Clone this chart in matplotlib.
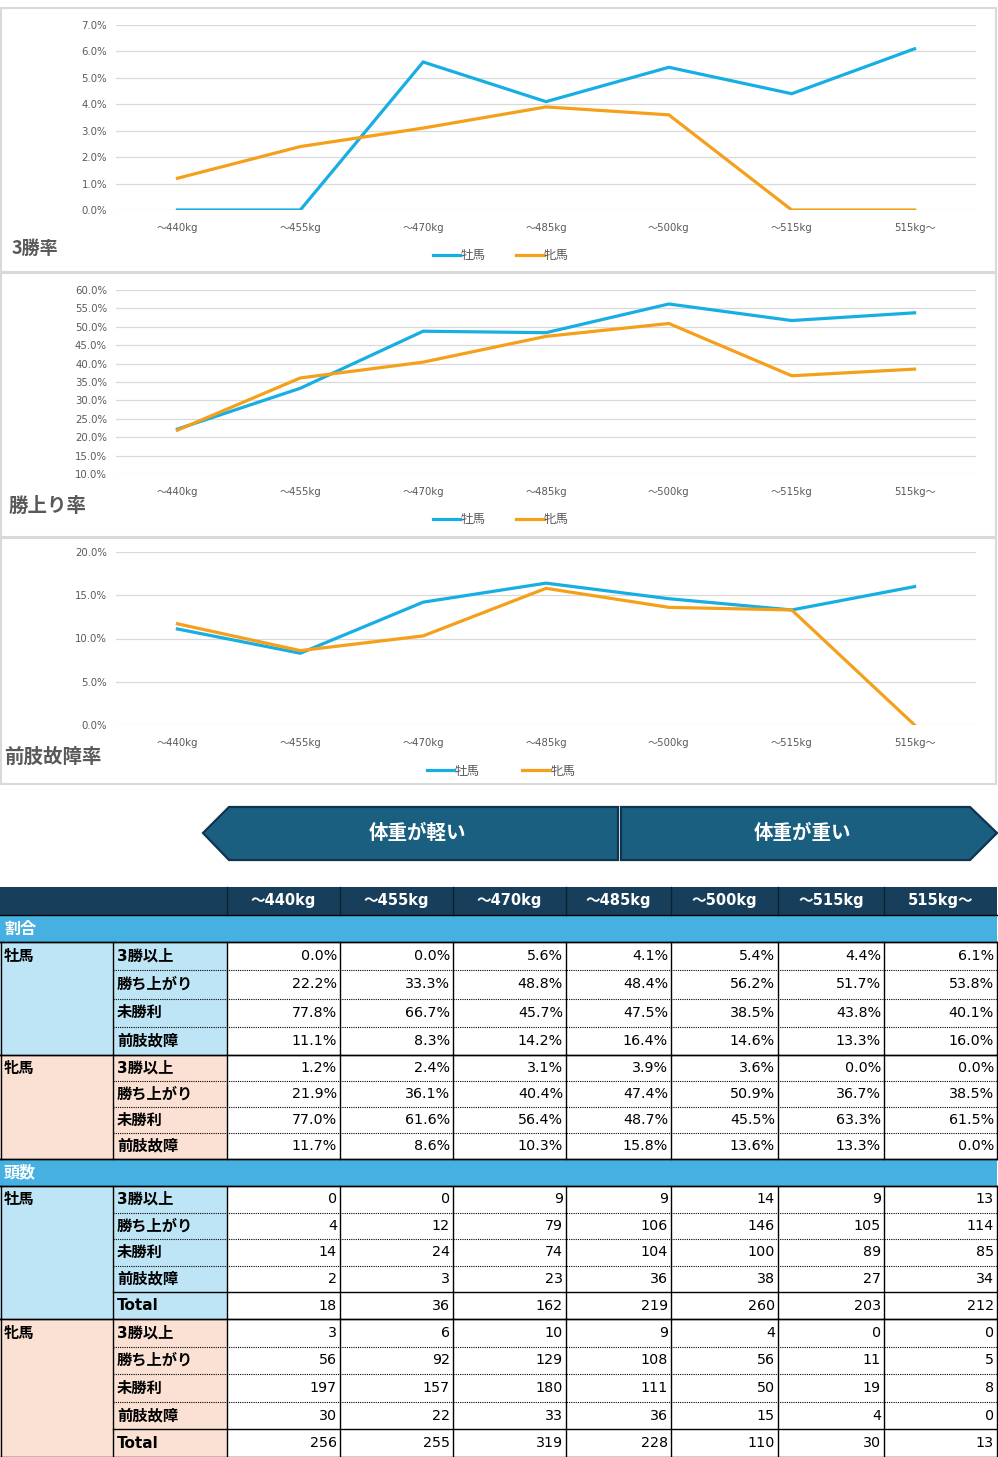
import matplotlib
matplotlib.use("Agg")
import matplotlib.pyplot as plt
from matplotlib.patches import Rectangle, Polygon
from matplotlib.ticker import FuncFormatter, MultipleLocator

plt.rcParams['font.family'] = ['Noto Sans CJK JP', 'DejaVu Sans']
LATIN = ['DejaVu Sans', 'Noto Sans CJK JP']

# ---------------- data ----------------
categories = ["～440kg", "～455kg", "～470kg", "～485kg", "～500kg", "～515kg", "515kg～"]
sexes = ["牡馬", "牝馬"]
metrics = ["3勝以上", "勝ち上がり", "未勝利", "前肢故障"]

# rates (%)
male_3win = [0.0, 0.0, 5.6, 4.1, 5.4, 4.4, 6.1]
male_winup = [22.2, 33.3, 48.8, 48.4, 56.2, 51.7, 53.8]
male_nowin = [77.8, 66.7, 45.7, 47.5, 38.5, 43.8, 40.1]
male_injury = [11.1, 8.3, 14.2, 16.4, 14.6, 13.3, 16.0]
female_3win = [1.2, 2.4, 3.1, 3.9, 3.6, 0.0, 0.0]
female_winup = [21.9, 36.1, 40.4, 47.4, 50.9, 36.7, 38.5]
female_nowin = [77.0, 61.6, 56.4, 48.7, 45.5, 63.3, 61.5]
female_injury = [11.7, 8.6, 10.3, 15.8, 13.6, 13.3, 0.0]

# counts
male_3win_n = [0, 0, 9, 9, 14, 9, 13]
male_winup_n = [4, 12, 79, 106, 146, 105, 114]
male_nowin_n = [14, 24, 74, 104, 100, 89, 85]
male_injury_n = [2, 3, 23, 36, 38, 27, 34]
male_total_n = [18, 36, 162, 219, 260, 203, 212]
female_3win_n = [3, 6, 10, 9, 4, 0, 0]
female_winup_n = [56, 92, 129, 108, 56, 11, 5]
female_nowin_n = [197, 157, 180, 111, 50, 19, 8]
female_injury_n = [30, 22, 33, 36, 15, 4, 0]
female_total_n = [256, 255, 319, 228, 110, 30, 13]

chart_titles = ["3勝率", "勝上り率", "前肢故障率"]
banner_texts = ["体重が軽い", "体重が重い"]
section_titles = ["割合", "頭数"]

# ---------------- styles ----------------
W, H = 998, 1457
BLUE = "#17aee4"
ORANGE = "#f4a01a"
GRID = "#d9d9d9"
TXT = "#595959"

fig = plt.figure(figsize=(W / 100, H / 100), dpi=100)
fig.patch.set_facecolor("white")
bg = fig.add_axes([0, 0, 1, 1], zorder=0)
bg.set_xlim(0, W)
bg.set_ylim(H, 0)
bg.axis("off")


def px_axes(x0, y0, x1, y1, z=2):
    return fig.add_axes([x0 / W, 1 - y1 / H, (x1 - x0) / W, (y1 - y0) / H], zorder=z)


def draw_chart(panel, box, male, female, ylim, step, title, tpos, tsize, lcenter, colsp):
    bg.add_patch(Rectangle((panel[0], panel[1]), panel[2] - panel[0], panel[3] - panel[1],
                           facecolor="white", edgecolor=GRID, lw=1.5, zorder=0))
    ax = px_axes(*box)
    ax.set_facecolor("none")
    x = list(range(len(categories)))
    l1, = ax.plot(x, male, color=BLUE, lw=2.3, solid_joinstyle="miter", label=sexes[0])
    l2, = ax.plot(x, female, color=ORANGE, lw=2.3, solid_joinstyle="miter", label=sexes[1])
    ax.set_xlim(-0.5, len(categories) - 0.5)
    ax.set_ylim(*ylim)
    ax.yaxis.set_major_locator(MultipleLocator(step))
    ax.yaxis.set_major_formatter(FuncFormatter(lambda v, p: f"{v:.1f}%"))
    ax.grid(axis="y", color=GRID, lw=0.9)
    ax.set_axisbelow(True)
    for s in ax.spines.values():
        s.set_visible(False)
    ax.set_xticks(x)
    ax.set_xticklabels(categories)
    ax.tick_params(axis="x", length=0, pad=9.5, labelsize=7.3, labelcolor=TXT)
    ax.tick_params(axis="y", length=0, pad=6.5, labelsize=7.3, labelcolor=TXT)
    for lab in ax.get_xticklabels() + ax.get_yticklabels():
        lab.set_family(LATIN)
    bg.text(tpos[0], tpos[1], title, fontsize=tsize, fontweight="bold", color=TXT,
            ha="left", va="center")
    ax.legend(handles=[l1, l2], loc="center", bbox_to_anchor=(lcenter[0] / W, 1 - lcenter[1] / H),
              bbox_transform=fig.transFigure, ncol=2, frameon=False, fontsize=9,
              handlelength=2.2, handletextpad=0.05, columnspacing=colsp, labelcolor=TXT,
              borderaxespad=0, borderpad=0)
    return ax


draw_chart((1, 8, 996, 272), (116, 25, 976, 210), male_3win, female_3win, (0, 7), 1,
           chart_titles[0], (12, 248), 13, (501, 256), 2.4)
draw_chart((1, 273, 996, 537), (116, 290, 976, 474), male_winup, female_winup, (10, 60), 5,
           chart_titles[1], (9, 506), 14, (501, 520), 2.4)
draw_chart((1, 538, 996, 784), (116, 552, 976, 725), male_injury, female_injury, (0, 20), 5,
           chart_titles[2], (4, 757), 14, (501, 771), 3.4)

# ---------------- banner ----------------
BAN_FC = "#1b5f80"
BAN_EC = "#0e3450"
left_arrow = [(203, 833), (229, 807), (618, 807), (618, 860), (229, 860)]
right_arrow = [(621, 807), (970, 807), (997, 833), (970, 860), (621, 860)]
for poly, txt, cx in [(left_arrow, banner_texts[0], 417), (right_arrow, banner_texts[1], 802)]:
    bg.add_patch(Polygon(poly, closed=True, facecolor=BAN_FC, edgecolor=BAN_EC, lw=1.6))
    bg.text(cx, 833, txt, color="white", fontsize=14, fontweight="bold", ha="center", va="center")

# ---------------- table ----------------
col_edges = [0, 113, 227, 340, 453, 566, 671, 778, 884, 997]
HEAD_C = "#173f5b"
SEC_C = "#46b0e0"
GROUP_C = ["#bee5f5", "#fbe1d4"]
LINE = "black"
x_right = col_edges[-1]

# header
bg.add_patch(Rectangle((0, 887), x_right, 28, facecolor=HEAD_C, edgecolor="none"))
for i, c in enumerate(categories):
    xl, xr = col_edges[i + 2], col_edges[i + 3]
    bg.text((xl + xr) / 2, 901, c, color="white", fontsize=10.5, fontweight="bold",
            ha="center", va="center", family=LATIN)
for xe in col_edges[2:-1]:
    bg.plot([xe, xe], [887, 915], color="#0b2233", lw=1)

rate_blocks = [
    [male_3win, male_winup, male_nowin, male_injury],
    [female_3win, female_winup, female_nowin, female_injury],
]
count_blocks = [
    [male_3win_n, male_winup_n, male_nowin_n, male_injury_n, male_total_n],
    [female_3win_n, female_winup_n, female_nowin_n, female_injury_n, female_total_n],
]
row_names_rate = metrics
row_names_count = metrics + ["Total"]

sections = [
    (section_titles[0], (915, 942), [(942, 1055), (1055, 1159)], rate_blocks, row_names_rate,
     lambda v: f"{v:.1f}%"),
    (section_titles[1], (1159, 1186), [(1186, 1319), (1319, 1457)], count_blocks, row_names_count,
     lambda v: f"{v:d}"),
]

for stitle, (sy0, sy1), groups, blocks, rnames, fmt in sections:
    bg.add_patch(Rectangle((0, sy0), x_right, sy1 - sy0, facecolor=SEC_C, edgecolor="none"))
    bg.text(4, (sy0 + sy1) / 2, stitle, color="white", fontsize=11.5, fontweight="bold",
            ha="left", va="center")
    bg.plot([0, x_right], [sy0, sy0], color=LINE, lw=1)
    for gi, (gy0, gy1) in enumerate(groups):
        n = len(rnames)
        rh = (gy1 - gy0) / n
        bg.add_patch(Rectangle((0, gy0), col_edges[2], gy1 - gy0, facecolor=GROUP_C[gi],
                               edgecolor="none"))
        bg.text(4, gy0 + rh / 2, sexes[gi], fontsize=11, fontweight="bold", color="black",
                ha="left", va="center")
        for ri, rname in enumerate(rnames):
            ry0 = gy0 + ri * rh
            yc = ry0 + rh / 2
            bg.text(117, yc, rname, fontsize=11, fontweight="bold", color="black",
                    ha="left", va="center", family=LATIN)
            for ci, v in enumerate(blocks[gi][ri]):
                bg.text(col_edges[ci + 3] - 3, yc, fmt(v), fontsize=10.3, color="black",
                        ha="right", va="center", family=LATIN)
            if ri > 0:
                if rname == "Total":
                    bg.plot([col_edges[1], x_right], [ry0, ry0], color=LINE, lw=1)
                else:
                    bg.plot([col_edges[1], x_right], [ry0, ry0], color=LINE, lw=0.8,
                            ls=(0, (1, 1)))
        bg.plot([0, x_right], [gy0, gy0], color=LINE, lw=1)
        bg.plot([0, x_right], [gy1, gy1], color=LINE, lw=1)
        for xe in col_edges[1:]:
            bg.plot([xe, xe], [gy0, gy1], color=LINE, lw=1)
        bg.plot([0.8, 0.8], [gy0, gy1], color=LINE, lw=1)
    bg.plot([0, x_right], [sy1, sy1], color=LINE, lw=1)

fig.savefig("out.png", dpi=100, facecolor="white")
